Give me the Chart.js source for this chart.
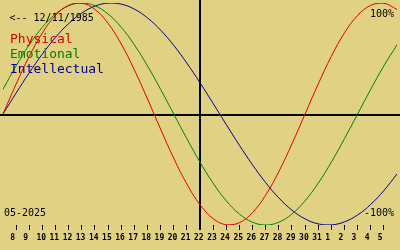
<!DOCTYPE html>
<html>
<head>
<meta charset="utf-8">
<script src="https://cdn.jsdelivr.net/npm/chart.js@4/dist/chart.umd.min.js"></script>
<style>
  html, body { margin: 0; padding: 0; background: #e0d282; }
  canvas { display: block; }
</style>
</head>
<body>
<canvas id="c" width="400" height="250"></canvas>
<script>
// Day labels: 7 May .. 6 June 2025 (centre day = 22 May)
const dayLabels = ['7','8','9','10','11','12','13','14','15','16','17','18','19','20','21','22',
  '23','24','25','26','27','28','29','30','31','1','2','3','4','5','6'];

const physical = [0, 0.2698, 0.5196, 0.7308, 0.8879, 0.9791, 0.9977, 0.9423, 0.8170, 0.6311,
  0.3984, 0.1362, -0.1362, -0.3984, -0.6311, -0.8170, -0.9423, -0.9977, -0.9791, -0.8879,
  -0.7308, -0.5196, -0.2698, 0, 0.2698, 0.5196, 0.7308, 0.8879, 0.9791, 0.9977, 0.9423];

const emotional = [0.2225, 0.4339, 0.6235, 0.7818, 0.9010, 0.9749, 1.0, 0.9749, 0.9010, 0.7818,
  0.6235, 0.4339, 0.2225, 0, -0.2225, -0.4339, -0.6235, -0.7818, -0.9010, -0.9749,
  -1.0, -0.9749, -0.9010, -0.7818, -0.6235, -0.4339, -0.2225, 0, 0.2225, 0.4339, 0.6235];

const intellectual = [0, 0.1893, 0.3717, 0.5406, 0.6901, 0.8146, 0.9096, 0.9718, 0.9989, 0.9898,
  0.9450, 0.8660, 0.7557, 0.6182, 0.4582, 0.2817, 0.0951, -0.0951, -0.2817, -0.4582,
  -0.6182, -0.7557, -0.8660, -0.9450, -0.9898, -0.9989, -0.9718, -0.9096, -0.8146, -0.6901, -0.5406];

const seriesNames = ['Physical', 'Emotional', 'Intellectual'];
const seriesColors = ['#e00000', '#008000', '#000090'];
const birthText = '<-- 12/11/1985';
const monthText = '05-2025';
const topText = '100%';
const bottomText = '-100%';
const centreIndex = 15;

const BG = '#e0d282';
const lastIdx = dayLabels.length - 1;

const decor = {
  id: 'decor',
  beforeDraw(chart) {
    const ctx = chart.ctx;
    ctx.save();
    ctx.fillStyle = BG;
    ctx.fillRect(0, 0, chart.width, chart.height);
    ctx.restore();
  },
  beforeDatasetsDraw(chart) {
    const ctx = chart.ctx;
    const xs = chart.scales.x, ys = chart.scales.y;
    const area = chart.chartArea;
    const xc = Math.round(xs.getPixelForValue(centreIndex));
    const y0 = Math.round(ys.getPixelForValue(0));
    ctx.save();
    ctx.fillStyle = '#000';
    ctx.fillRect(0, y0, chart.width, 2);
    ctx.fillRect(xc - 1, 0, 2, area.bottom + 5);
    ctx.restore();
  },
  afterDatasetsDraw(chart) {
    const ctx = chart.ctx;
    ctx.save();
    ctx.textBaseline = 'alphabetic';
    ctx.fillStyle = '#000';
    ctx.font = '10px "DejaVu Sans Mono"';
    ctx.textAlign = 'left';
    ctx.fillText(birthText, 9.5, 21);
    ctx.fillText(monthText, 4, 216);
    ctx.textAlign = 'right';
    ctx.fillText(topText, 394, 17);
    ctx.fillText(bottomText, 394, 216);
    ctx.textAlign = 'left';
    ctx.font = '13px "DejaVu Sans Mono"';
    seriesNames.forEach((n, i) => {
      ctx.fillStyle = seriesColors[i];
      ctx.fillText(n, 10, 43 + i * 15);
    });
    ctx.restore();
  }
};

const mk = (label, data, color) => ({
  label, data,
  borderColor: color,
  backgroundColor: color,
  borderWidth: 1,
  pointRadius: 0,
  tension: 0.4,
  fill: false
});

new Chart(document.getElementById('c'), {
  type: 'line',
  data: {
    labels: dayLabels,
    datasets: [
      mk(seriesNames[0], physical, seriesColors[0]),
      mk(seriesNames[1], emotional, seriesColors[1]),
      mk(seriesNames[2], intellectual, seriesColors[2])
    ]
  },
  options: {
    responsive: false,
    devicePixelRatio: 1,
    animation: false,
    layout: { padding: { top: 3, left: 0, right: 0, bottom: 0 } },
    plugins: { legend: { display: false }, tooltip: { enabled: false } },
    scales: {
      x: {
        type: 'category',
        offset: false,
        border: { display: false },
        grid: {
          drawOnChartArea: false,
          drawTicks: true,
          tickLength: 5,
          lineWidth: 1,
          color: (c) => (c.index === 0 || c.index === lastIdx) ? 'rgba(0,0,0,0)' : '#000'
        },
        ticks: {
          autoSkip: false,
          maxRotation: 0,
          minRotation: 0,
          padding: 3,
          align: 'start',
          labelOffset: -6,
          color: '#000',
          font: { family: 'DejaVu Sans Mono', size: 8, weight: 'bold' },
          callback: (v, i) => (i === 0 || i === lastIdx) ? '' : dayLabels[i]
        },
        afterFit: (s) => { s.height = 25; }
      },
      y: { display: false, min: -1, max: 1 }
    }
  },
  plugins: [decor]
});
</script>
</body>
</html>
